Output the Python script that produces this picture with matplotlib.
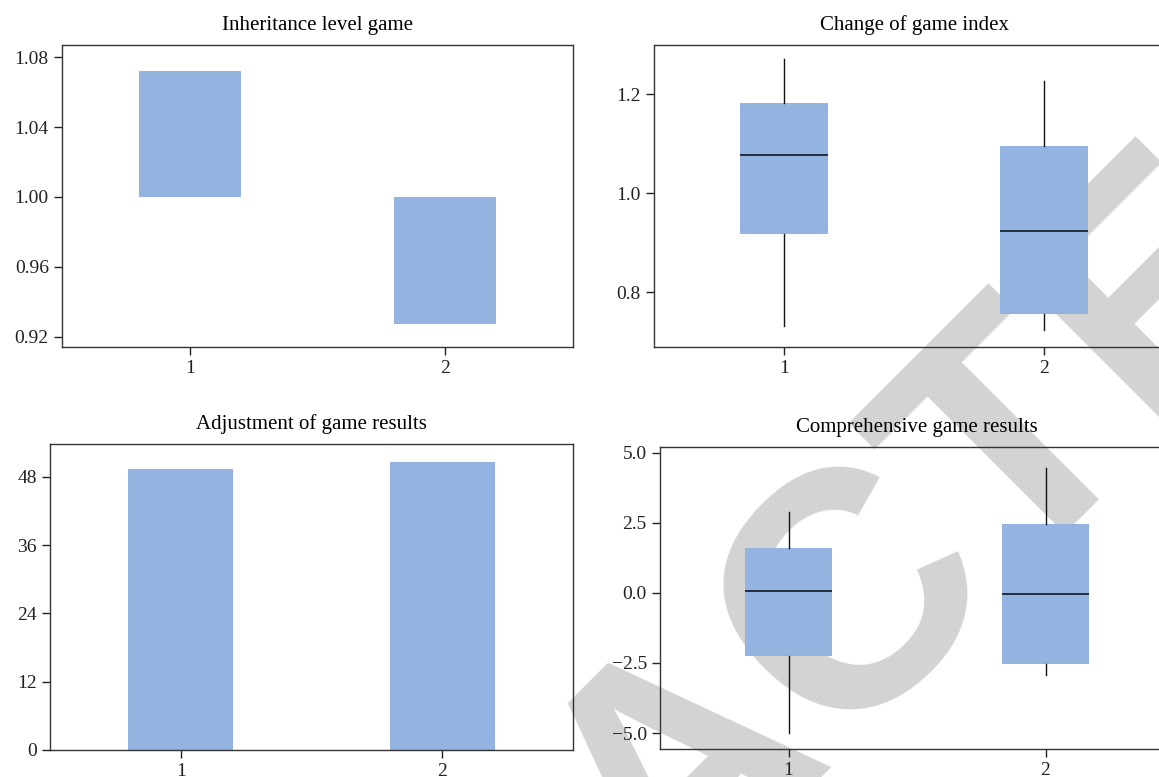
import matplotlib
matplotlib.use('Agg')
import matplotlib.pyplot as plt

plt.rcParams['font.family'] = ['Liberation Serif', 'DejaVu Serif']
plt.rcParams['font.size'] = 14

# 数据
groups = [1, 2]

# Inheritance level game (floating bars from 1.0)
inherit_top = [1.072, 0.927]
inherit_base = 1.0

# Change of game index (box stats)
change_q1 = [0.918, 0.756]
change_med = [1.076, 0.924]
change_q3 = [1.182, 1.094]
change_lo = [0.732, 0.724]
change_hi = [1.270, 1.226]

# Adjustment of game results
adjust_vals = [49.4, 50.6]

# Comprehensive game results (box stats)
comp_q1 = [-2.25, -2.54]
comp_med = [0.07, -0.04]
comp_q3 = [1.61, 2.46]
comp_lo = [-5.0, -2.93]
comp_hi = [2.89, 4.46]

box_color = '#93b3e0'
W, H = 1159, 777


def px_axes(fig, left, right, top, bottom):
    return fig.add_axes([left / W, 1 - bottom / H, (right - left) / W, (bottom - top) / H])


def style(ax, title):
    ax.set_facecolor('none')
    for s in ax.spines.values():
        s.set_linewidth(1.0)
        s.set_color('#333333')
    ax.tick_params(direction='out', length=6, width=1, colors='#222222',
                   top=False, right=False, labelsize=14)
    ax.set_title(title, fontsize=15, pad=11)
    ax.set_xlim(0.5, 2.5)
    ax.set_xticks(groups)
    ax.set_xticklabels([str(g) for g in groups])


def boxes(ax, q1, med, q3, lo, hi):
    stats = []
    for i in range(len(groups)):
        stats.append({'med': med[i], 'q1': q1[i], 'q3': q3[i],
                      'whislo': lo[i], 'whishi': hi[i], 'fliers': []})
    ax.bxp(stats, positions=groups, widths=0.34, showfliers=False, showcaps=False,
           patch_artist=True,
           boxprops=dict(facecolor=box_color, edgecolor='none'),
           medianprops=dict(color='#1c2233', linewidth=1.3),
           whiskerprops=dict(color='#111111', linewidth=1.0),
           manage_ticks=False)


fig = plt.figure(figsize=(W / 100, H / 100), dpi=100)

# watermark
fig.text(746 / W, 1 - 830 / H, 'RETRACTED', family='Liberation Sans', weight='bold',
         fontsize=242, color='#d3d3d3', rotation=45, rotation_mode='anchor',
         ha='center', va='baseline', zorder=-5)

ax1 = px_axes(fig, 62, 573, 45, 347)
ax1.bar(groups, [v - inherit_base for v in inherit_top], bottom=inherit_base,
        width=0.4, color=box_color)
style(ax1, 'Inheritance level game')
ax1.set_ylim(0.914, 1.087)
ax1.set_yticks([0.92, 0.96, 1.00, 1.04, 1.08])
ax1.set_yticklabels(['0.92', '0.96', '1.00', '1.04', '1.08'])

ax2 = px_axes(fig, 654, 1174, 45, 347)
boxes(ax2, change_q1, change_med, change_q3, change_lo, change_hi)
style(ax2, 'Change of game index')
ax2.set_ylim(0.689, 1.299)
ax2.set_yticks([0.8, 1.0, 1.2])
ax2.set_yticklabels(['0.8', '1.0', '1.2'])

ax3 = px_axes(fig, 50, 573, 444, 750)
ax3.bar(groups, adjust_vals, width=0.4, color=box_color)
style(ax3, 'Adjustment of game results')
ax3.set_ylim(0, 53.8)
ax3.set_yticks([0, 12, 24, 36, 48])

ax4 = px_axes(fig, 660, 1174, 447, 749)
boxes(ax4, comp_q1, comp_med, comp_q3, comp_lo, comp_hi)
style(ax4, 'Comprehensive game results')
ax4.set_ylim(-5.57, 5.21)
ax4.set_yticks([-5.0, -2.5, 0.0, 2.5, 5.0])
ax4.set_yticklabels(['\u22125.0', '\u22122.5', '0.0', '2.5', '5.0'])

fig.savefig('out.png', dpi=100)
